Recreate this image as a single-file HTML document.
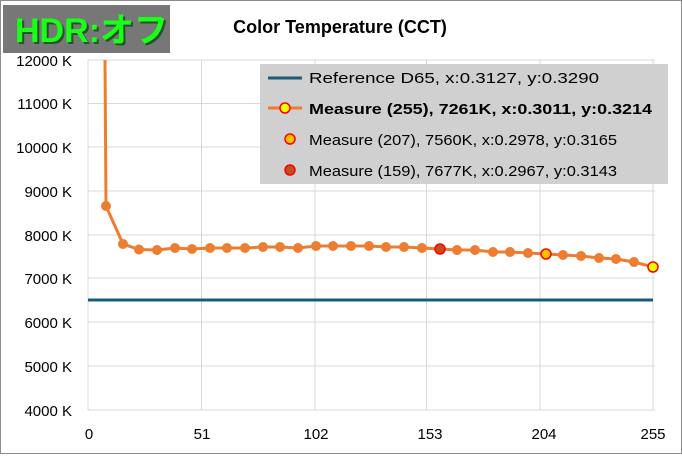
<!DOCTYPE html>
<html><head><meta charset="utf-8"><style>
body{margin:0;background:#fff}
svg text{font-family:"Liberation Sans","Noto Sans CJK JP",sans-serif}
</style></head><body>
<svg width="682" height="454" xmlns="http://www.w3.org/2000/svg">
<rect x="0.5" y="0.5" width="681" height="453" fill="#fff" stroke="#8c8c8c"/>
<text x="340" y="33" font-size="18" font-weight="bold" text-anchor="middle">Color Temperature (CCT)</text>
<g stroke="#d9d9d9" stroke-width="1">
<line x1="88" y1="60" x2="655" y2="60"/><line x1="88" y1="103.5" x2="655" y2="103.5"/>
<line x1="88" y1="147" x2="655" y2="147"/><line x1="88" y1="191" x2="655" y2="191"/>
<line x1="88" y1="235" x2="655" y2="235"/><line x1="88" y1="278" x2="655" y2="278"/>
<line x1="88" y1="322" x2="655" y2="322"/><line x1="88" y1="366" x2="655" y2="366"/>
<line x1="88" y1="410" x2="655" y2="410"/>
<line x1="88" y1="60" x2="88" y2="410"/><line x1="201.5" y1="60" x2="201.5" y2="410"/>
<line x1="315" y1="60" x2="315" y2="410"/><line x1="426.5" y1="60" x2="426.5" y2="410"/>
<line x1="540" y1="60" x2="540" y2="410"/><line x1="653" y1="60" x2="653" y2="410"/>
</g>
<g font-size="15" text-anchor="end" fill="#000">
<text x="72" y="66">12000 K</text><text x="72" y="109">11000 K</text><text x="72" y="153">10000 K</text>
<text x="72" y="197">9000 K</text><text x="72" y="241">8000 K</text><text x="72" y="284">7000 K</text>
<text x="72" y="328">6000 K</text><text x="72" y="372">5000 K</text><text x="72" y="416">4000 K</text>
</g>
<g font-size="15" text-anchor="middle">
<text x="89" y="439">0</text><text x="202" y="439">51</text><text x="316" y="439">102</text>
<text x="430" y="439">153</text><text x="544" y="439">204</text><text x="653" y="439">255</text>
</g>
<line x1="88" y1="300" x2="653" y2="300" stroke="#1b5a7a" stroke-width="3"/>
<polyline fill="none" stroke="#ed7d31" stroke-width="3" points="105,60 106,206 123,244 139,249.5 157,250 175,248 192,249 210,248 227,248 245,248 263,247 280,247 298,248 316,246 333,246 351,246 369,246 386,247 404,247 422,248 440,249 457,250 475,250 493,252 510,252 528,253 546,254 563,255 581,256 599,258 616,259 634,262 653,267"/>
<g fill="#ed7d31">
<circle cx="106" cy="206" r="5"/><circle cx="123" cy="244" r="5"/><circle cx="139" cy="249.5" r="5"/><circle cx="157" cy="250" r="5"/><circle cx="175" cy="248" r="5"/><circle cx="192" cy="249" r="5"/><circle cx="210" cy="248" r="5"/><circle cx="227" cy="248" r="5"/><circle cx="245" cy="248" r="5"/><circle cx="263" cy="247" r="5"/><circle cx="280" cy="247" r="5"/><circle cx="298" cy="248" r="5"/><circle cx="316" cy="246" r="5"/><circle cx="333" cy="246" r="5"/><circle cx="351" cy="246" r="5"/><circle cx="369" cy="246" r="5"/><circle cx="386" cy="247" r="5"/><circle cx="404" cy="247" r="5"/><circle cx="422" cy="248" r="5"/><circle cx="457" cy="250" r="5"/><circle cx="475" cy="250" r="5"/><circle cx="493" cy="252" r="5"/><circle cx="510" cy="252" r="5"/><circle cx="528" cy="253" r="5"/><circle cx="563" cy="255" r="5"/><circle cx="581" cy="256" r="5"/><circle cx="599" cy="258" r="5"/><circle cx="616" cy="259" r="5"/><circle cx="634" cy="262" r="5"/>
</g>
<circle cx="440" cy="249" r="5" fill="#c0501e" stroke="#f00" stroke-width="1.5"/>
<circle cx="546" cy="254" r="5" fill="#ffc000" stroke="#f00" stroke-width="1.5"/>
<circle cx="653" cy="267" r="5" fill="#ffff00" stroke="#f00" stroke-width="1.5"/>
<rect x="260" y="64" width="408" height="120" fill="#d0d0d0"/>
<line x1="268" y1="78" x2="302" y2="78" stroke="#1b5a7a" stroke-width="3"/>
<text x="309" y="83" font-size="15" textLength="290" lengthAdjust="spacingAndGlyphs">Reference D65, x:0.3127, y:0.3290</text>
<line x1="268" y1="108" x2="302" y2="108" stroke="#ed7d31" stroke-width="3"/>
<circle cx="285" cy="108" r="5" fill="#ffff00" stroke="#f00" stroke-width="1.5"/>
<text x="309" y="114" font-size="15" font-weight="bold" textLength="343" lengthAdjust="spacingAndGlyphs">Measure (255), 7261K, x:0.3011, y:0.3214</text>
<circle cx="290" cy="139" r="5" fill="#ffc000" stroke="#f00" stroke-width="1.5"/>
<text x="309" y="145" font-size="15" textLength="308" lengthAdjust="spacingAndGlyphs">Measure (207), 7560K, x:0.2978, y:0.3165</text>
<circle cx="290" cy="170" r="5" fill="#c0501e" stroke="#f00" stroke-width="1.5"/>
<text x="309" y="176" font-size="15" textLength="308" lengthAdjust="spacingAndGlyphs">Measure (159), 7677K, x:0.2967, y:0.3143</text>
<rect x="3" y="5" width="167" height="48" fill="#777"/>
<text x="17" y="44" font-size="34" font-weight="bold" fill="#225522">HDR:オフ</text>
<text x="15" y="42" font-size="34" font-weight="bold" fill="#1aff1a">HDR:オフ</text>
</svg>
</body></html>
